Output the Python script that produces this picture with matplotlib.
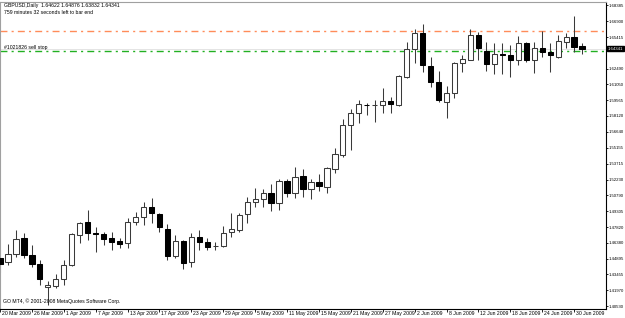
import matplotlib
matplotlib.use("Agg")
import matplotlib.pyplot as plt
import matplotlib.transforms as mtransforms
import numpy as np

# daily GBPUSD candles, 20 Mar 2009 .. 1 Jul 2009
opens = [1.4497, 1.4460, 1.4534, 1.4682, 1.4525, 1.4442, 1.4229, 1.4238, 1.4303, 1.4432,
         1.4710, 1.4830, 1.4729, 1.4719, 1.4682, 1.4654, 1.4636, 1.4830, 1.4877, 1.4969,
         1.4905, 1.4766, 1.4516, 1.4654, 1.4460, 1.4692, 1.4645, 1.4606, 1.4608, 1.4738,
         1.4756, 1.4905, 1.5015, 1.5043, 1.5099, 1.5006, 1.5210, 1.5099, 1.5256, 1.5136,
         1.5201, 1.5154, 1.5321, 1.5450, 1.5728, 1.5839, 1.5916, 1.5910, 1.5913, 1.5950,
         1.5913, 1.6172, 1.6431, 1.6579, 1.6274, 1.6126, 1.5941, 1.6024, 1.6302, 1.6330,
         1.6561, 1.6413, 1.6293, 1.6385, 1.6376, 1.6330, 1.6487, 1.6330, 1.6441, 1.6404,
         1.6357, 1.6496, 1.6542, 1.64622]
highs = [1.4571, 1.4627, 1.4756, 1.4729, 1.4617, 1.4479, 1.4284, 1.4349, 1.4479, 1.4729,
         1.4830, 1.4941, 1.4784, 1.4738, 1.4738, 1.4682, 1.4868, 1.4923, 1.5015, 1.5052,
         1.4914, 1.4812, 1.4710, 1.4664, 1.4729, 1.4756, 1.4682, 1.4645, 1.4793, 1.4914,
         1.4914, 1.5062, 1.5145, 1.5136, 1.5182, 1.5228, 1.5228, 1.5339, 1.5321, 1.5228,
         1.5275, 1.5339, 1.5515, 1.5784, 1.5876, 1.5960, 1.5932, 1.5960, 1.6070, 1.5987,
         1.6191, 1.6496, 1.6616, 1.6663, 1.6357, 1.6228, 1.6089, 1.6311, 1.6376, 1.6616,
         1.6589, 1.6496, 1.6487, 1.6487, 1.6468, 1.6552, 1.6496, 1.6496, 1.6598, 1.6487,
         1.6561, 1.6579, 1.6737, 1.64876]
lows = [1.4368, 1.4432, 1.4506, 1.4497, 1.4414, 1.4247, 1.4062, 1.4220, 1.4247, 1.4423,
        1.4636, 1.4664, 1.4553, 1.4617, 1.4571, 1.4590, 1.4590, 1.4803, 1.4803, 1.4821,
        1.4738, 1.4479, 1.4497, 1.4395, 1.4414, 1.4571, 1.4571, 1.4571, 1.4599, 1.4692,
        1.4738, 1.4821, 1.4969, 1.4969, 1.4932, 1.4941, 1.5062, 1.5052, 1.5062, 1.5043,
        1.5117, 1.5099, 1.5284, 1.5432, 1.5497, 1.5747, 1.5821, 1.5756, 1.5839, 1.5839,
        1.5904, 1.6163, 1.6302, 1.6219, 1.6080, 1.5941, 1.5793, 1.5978, 1.6219, 1.6325,
        1.6330, 1.6228, 1.6200, 1.6200, 1.6172, 1.6283, 1.6311, 1.6209, 1.6357, 1.6219,
        1.6350, 1.6441, 1.6404, 1.63832]
closes = [1.4442, 1.4534, 1.4673, 1.4525, 1.4442, 1.4303, 1.4247, 1.4303, 1.4432, 1.4719,
          1.4821, 1.4729, 1.4719, 1.4673, 1.4645, 1.4627, 1.4830, 1.4877, 1.4969, 1.4914,
          1.4784, 1.4516, 1.4654, 1.4451, 1.4692, 1.4645, 1.4599, 1.4610, 1.4729, 1.4766,
          1.4895, 1.5015, 1.5043, 1.5099, 1.5006, 1.5210, 1.5099, 1.5247, 1.5136, 1.5201,
          1.5164, 1.5330, 1.5460, 1.5728, 1.5839, 1.5922, 1.5910, 1.5916, 1.5950, 1.5922,
          1.6182, 1.6431, 1.6579, 1.6283, 1.6126, 1.5960, 1.6024, 1.6302, 1.6339, 1.6561,
          1.6441, 1.6293, 1.6385, 1.6376, 1.6330, 1.6487, 1.6330, 1.6441, 1.6404, 1.6376,
          1.6505, 1.6542, 1.6450, 1.64341]

date_labels = ["20 Mar 2009", "26 Mar 2009", "1 Apr 2009", "7 Apr 2009", "13 Apr 2009",
               "17 Apr 2009", "23 Apr 2009", "29 Apr 2009", "5 May 2009", "11 May 2009",
               "15 May 2009", "21 May 2009", "27 May 2009", "2 Jun 2009", "8 Jun 2009",
               "12 Jun 2009", "18 Jun 2009", "24 Jun 2009", "30 Jun 2009"]
date_bars = list(range(0, 73, 4))

price_ticks = [1.68385, 1.66900, 1.65415, 1.62490, 1.61050, 1.59565, 1.58120, 1.56640,
               1.55155, 1.53715, 1.52230, 1.50790, 1.49305, 1.47820, 1.46380, 1.44895,
               1.43455, 1.41970, 1.40530]

bid = 1.64341
alert_level = 1.6598
sell_stop = 1.6410

FONT = ["Liberation Sans", "DejaVu Sans"]
FS = 3.7
FS_PRICE = 3.05

W, H = 625, 318
fig = plt.figure(figsize=(W / 100, H / 100), dpi=100)
fig.patch.set_facecolor("white")
ax = fig.add_axes([0, 1 - 309 / H, 606 / W, 307 / H])

o = np.array(opens)
c = np.array(closes)
hi = np.array(highs)
lo = np.array(lows)
x = np.arange(len(o))
up = c >= o

ax.vlines(x, lo, hi, color="#3a3a3a", linewidth=0.75, zorder=2)
bottoms = np.minimum(o, c)
heights = np.maximum(np.abs(c - o), 0.00005)
ax.bar(x[up], heights[up], bottom=bottoms[up], width=0.66, color="white",
       edgecolor="#3a3a3a", linewidth=0.75, zorder=3)
ax.bar(x[~up], heights[~up], bottom=bottoms[~up], width=0.66, color="black",
       edgecolor="black", linewidth=0.75, zorder=3)

# level lines
ax.axhline(bid, color="#e4e4e4", linewidth=0.7, zorder=1)
ax.axhline(alert_level, color="#ff8c5a", linewidth=1.0, linestyle=(0, (5, 3, 1.5, 3)), zorder=1)
ax.axhline(sell_stop, color="#22b022", linewidth=1.0, linestyle=(0, (5, 3, 1.5, 3)), zorder=1)

ax.set_xlim(0.25, 76.0)
ax.set_ylim(1.40253, 1.68663)

# axes frame
for side in ["top", "left"]:
    ax.spines[side].set_color("#a0a0a0")
    ax.spines[side].set_linewidth(0.8)
for side in ["right", "bottom"]:
    ax.spines[side].set_color("black")
    ax.spines[side].set_linewidth(0.8)

ax.yaxis.tick_right()
ax.set_yticks(price_ticks)
ax.set_yticklabels([f"{p:.5f}" for p in price_ticks], fontsize=FS_PRICE, family=FONT)
ax.tick_params(axis="y", direction="out", length=1.6, width=0.6, pad=0.5)

ax.set_xticks(date_bars)
ax.set_xticklabels([])
ax.tick_params(axis="x", direction="out", length=2.5, width=0.6)
xt = mtransforms.blended_transform_factory(ax.transData, ax.transAxes)
off = mtransforms.ScaledTranslation(2 / 100, -2 / 100, fig.dpi_scale_trans)
for b, lab in zip(date_bars, date_labels):
    ax.text(b, 0, lab, transform=xt + off, ha="left", va="top", fontsize=FS,
            family=FONT, clip_on=False)

# bid price box on the price scale
yt = mtransforms.blended_transform_factory(ax.transAxes, ax.transData)
ax.text(1.0025, bid, "1.64341", transform=yt, ha="left", va="center", fontsize=FS_PRICE,
        family=FONT, color="white", clip_on=False,
        bbox=dict(boxstyle="square,pad=0.15", facecolor="black", edgecolor="black"))

ax.text(0.006, sell_stop + 0.0008, "#1021826 sell stop", transform=yt, ha="left",
        va="bottom", fontsize=FS, family=FONT)

fig.text(4 / W, 1 - 5 / H, "GBPUSD,Daily  1.64622 1.64876 1.63832 1.64341",
         ha="left", va="center", fontsize=FS, family=FONT)
fig.text(4 / W, 1 - 13 / H, "759 minutes 32 seconds left to bar end",
         ha="left", va="center", fontsize=FS, family=FONT)
fig.text(3 / W, 1 - 301 / H, "GO MT4, \u00a9 2001-2008 MetaQuotes Software Corp.",
         ha="left", va="center", fontsize=FS, family=FONT)

fig.savefig("out.png", dpi=100, facecolor="white")
